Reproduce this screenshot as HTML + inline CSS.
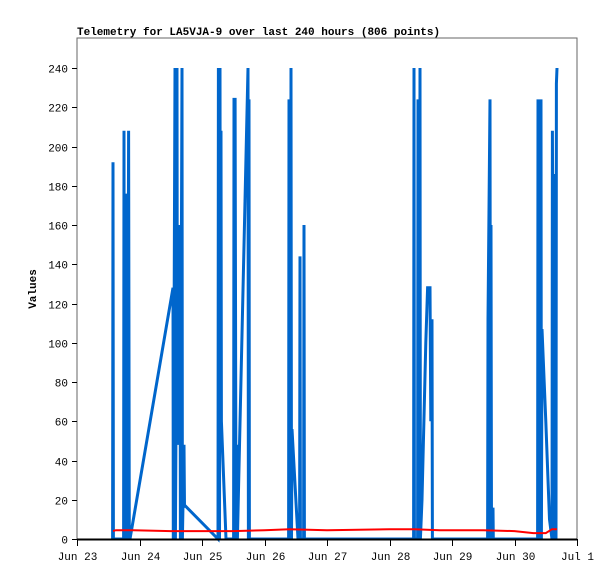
<!DOCTYPE html>
<html><head><meta charset="utf-8"><style>
body{margin:0;background:#fff}
svg text{font-family:"Liberation Mono","DejaVu Sans Mono",monospace;font-size:11px;fill:#000}
</style></head><body>
<svg width="615" height="579" xmlns="http://www.w3.org/2000/svg">
<rect x="0" y="0" width="615" height="579" fill="#fff"/>
<text x="77" y="35" font-weight="bold">Telemetry for LA5VJA-9 over last 240 hours (806 points)</text>
<text transform="translate(36,289) rotate(-90)" text-anchor="middle" font-weight="bold">Values</text>
<g id="axes"></g>
<g id="series"></g>
<g id="axes2"></g>
</svg>
<script>
const xTickLabels=["Jun 23","Jun 24","Jun 25","Jun 26","Jun 27","Jun 28","Jun 29","Jun 30","Jul 1"];
const yTicks=[0,20,40,60,80,100,120,140,160,180,200,220,240];
const blueT=[0.570,0.576,0.582,0.746,0.752,0.758,0.79,0.80,0.81,0.826,0.836,0.848,1.536,1.54,1.568,1.575,1.59,1.6,1.606,1.648,1.655,1.68,1.686,1.712,1.72,1.728,2.256,2.262,2.27,2.272,2.28,2.288,2.294,2.304,2.31,2.384,2.506,2.512,2.53,2.544,2.56,2.566,2.736,2.742,2.752,2.758,3.386,3.392,3.40,3.408,3.416,3.424,3.432,3.44,3.536,3.562,3.568,3.574,3.626,3.632,3.638,5.386,5.392,5.398,5.45,5.456,5.462,5.482,5.488,5.494,5.52,5.55,5.58,5.61,5.648,5.66,5.68,5.686,6.570,6.576,6.608,6.616,6.624,6.632,6.656,6.66,7.37,7.376,7.382,7.408,7.424,7.43,7.44,7.5,7.56,7.6,7.606,7.632,7.64,7.664,7.67,7.68];
const blueV=[0,192,0,0,208,0,0,176,0,208,0,0,128,0,240,0,96,240,48,160,0,240,0,48,16,17,0,240,0,192,0,240,60,208,60,0,0,224,224,0,48,0,240,0,224,0,0,224,0,144,0,240,0,56,0,0,144,0,0,160,0,0,240,0,0,224,0,0,240,0,20,60,100,128,128,60,112,0,0,112,224,0,160,0,16,0,0,224,0,72,224,0,107,60,10,0,208,0,186,0,232,240];
const redT=[0.576,0.62,0.9,1.5,2.5,3.0,3.4,4.0,5.0,5.4,5.8,6.5,7.0,7.3,7.5,7.6,7.68];
const redV=[4,4.5,4.5,4,4,4.5,5,4.5,5,5,4.5,4.5,4,3,3,5,5];
const X0=77,X1=577,Y0=539,Y1=68,TOP=38;
const xs=d=>X0+(X1-X0)*d/8;
const ys=v=>Y0-(Y0-Y1)*v/240;
const NS="http://www.w3.org/2000/svg";
const ax=document.getElementById('axes'),se=document.getElementById('series'),ax2=document.getElementById('axes2');
function mk(tag,at,par){const e=document.createElementNS(NS,tag);for(const k in at)e.setAttribute(k,at[k]);par.appendChild(e);return e;}
const frame=mk('rect',{x:X0,y:TOP,width:X1-X0,height:Y0-TOP,fill:'none',stroke:'#666','stroke-width':1},ax);


yTicks.forEach(v=>{
 const y=Math.round(ys(v))+0.5;
 const t=mk('line',{x1:X0-5,y1:y,x2:X0,y2:y,stroke:'#000'},ax);
 
 
 const l=mk('text',{x:X0-9,y:y+4,'text-anchor':'end'},ax);l.textContent=v;
 
 
});
xTickLabels.forEach((s,i)=>{
 const x=Math.round(xs(i))+0.5;
 const t=mk('line',{x1:x,y1:Y0,x2:x,y2:Y0+7,stroke:'#000'},ax);
 
 
 const l=mk('text',{x:x,y:Y0+21,'text-anchor':'middle'},ax);l.textContent=s;
 
 
});
const bp=mk('polyline',{points:blueT.map((t,i)=>xs(t).toFixed(1)+','+ys(blueV[i]).toFixed(1)).join(' '),fill:'none',stroke:'#0066cc','stroke-width':3},se);


const rp=mk('polyline',{points:redT.map((t,i)=>xs(t).toFixed(1)+','+ys(redV[i]).toFixed(1)).join(' '),fill:'none',stroke:'#ff0000','stroke-width':2},se);


const bx=mk('line',{x1:X0,y1:Y0+0.5,x2:X1,y2:Y0+0.5,stroke:'#000','stroke-width':2},ax2);


</script>
</body></html>
